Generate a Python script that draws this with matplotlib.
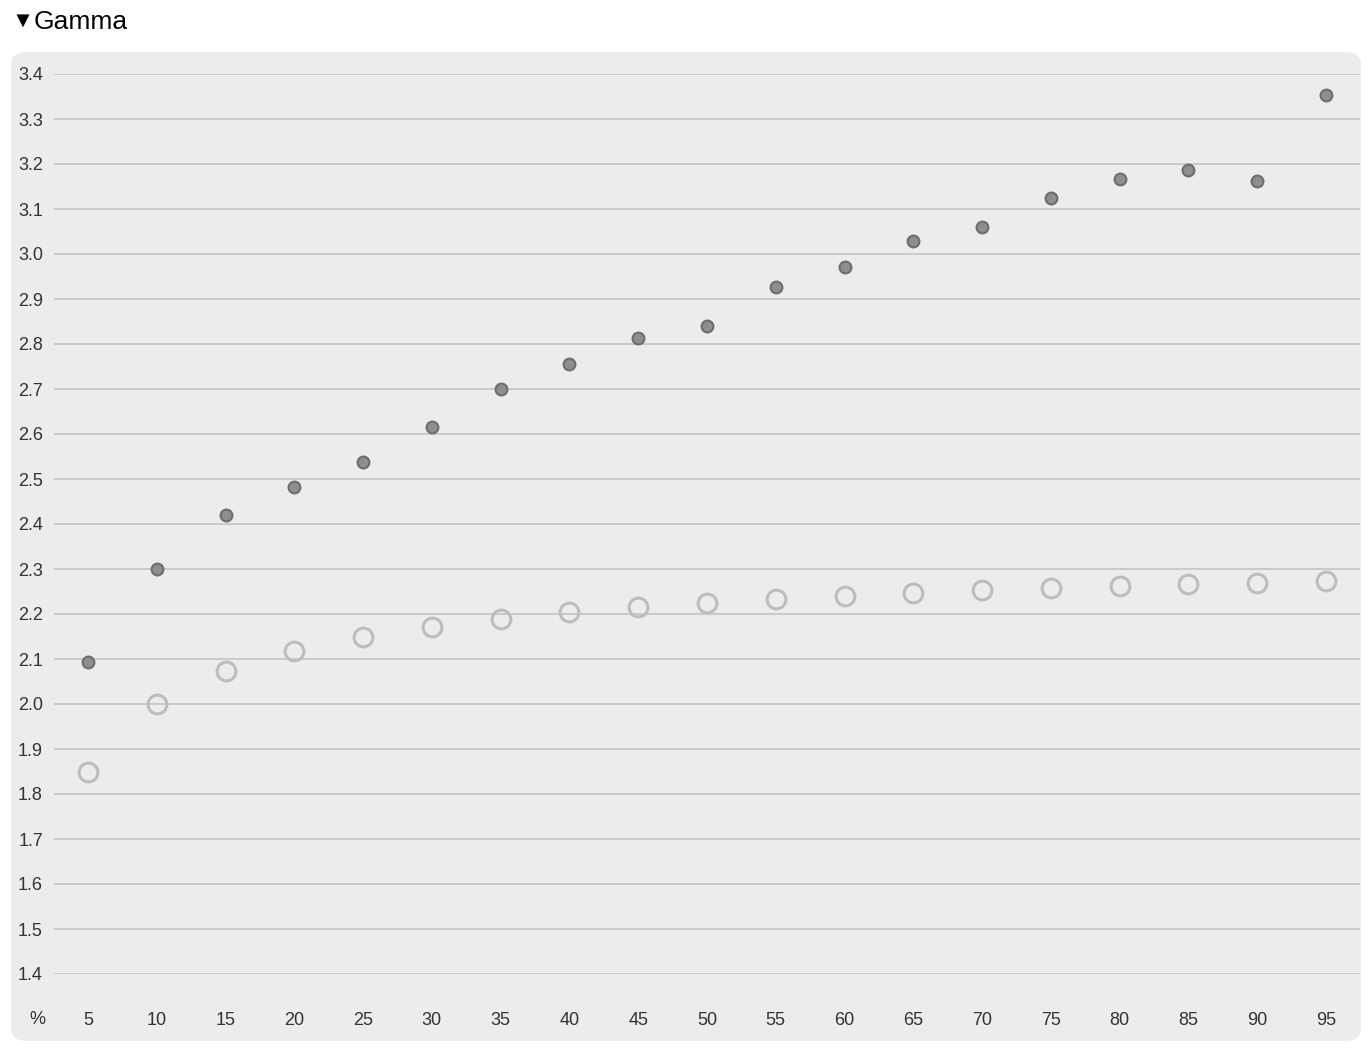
import matplotlib.pyplot as plt
import matplotlib.patches as patches
from matplotlib.transforms import blended_transform_factory

# Данные
percent = [5, 10, 15, 20, 25, 30, 35, 40, 45, 50, 55, 60, 65, 70, 75, 80, 85, 90, 95]
gamma_dark = [2.093, 2.30, 2.42, 2.482, 2.538, 2.616, 2.70, 2.756, 2.813, 2.84,
              2.927, 2.971, 3.029, 3.06, 3.124, 3.167, 3.187, 3.162, 3.353]
gamma_light = [1.849, 2.0, 2.073, 2.118, 2.149, 2.171, 2.189, 2.204, 2.216, 2.224,
               2.233, 2.24, 2.247, 2.253, 2.258, 2.262, 2.267, 2.269, 2.273]
yticks = [1.4, 1.5, 1.6, 1.7, 1.8, 1.9, 2.0, 2.1, 2.2, 2.3, 2.4, 2.5, 2.6, 2.7,
          2.8, 2.9, 3.0, 3.1, 3.2, 3.3, 3.4]

plt.rcParams['font.family'] = ['Liberation Sans', 'DejaVu Sans']

W, H = 1370, 1055
fig = plt.figure(figsize=(W / 100, H / 100), dpi=100)
fig.patch.set_facecolor('white')

# Фон панели
panel = patches.FancyBboxPatch((11 / W, 1 - 1041 / H), 1350 / W, 989 / H,
                               boxstyle='round,pad=0,rounding_size=0.012',
                               transform=fig.transFigure, facecolor='#ececec',
                               edgecolor='none', zorder=-5)
fig.patches.append(panel)

# Заголовок
fig.text(12 / W, 1 - 21 / H, '▼', fontsize=16, va='center', ha='left', color='black')
fig.text(34 / W, 1 - 22 / H, 'Gamma', fontsize=19, va='center', ha='left', color='black')

# Оси
ax = fig.add_axes([54 / W, 1 - 974 / H, (1360 - 54) / W, 900 / H])
ax.set_zorder(2)
ax.set_facecolor('none')
for s in ax.spines.values():
    s.set_visible(False)

step = (1326 - 88) / 18.0  # px на 5 единиц
x0 = 5 - (88 - 54) / step * 5
x1 = 95 + (1360 - 1326) / step * 5
ax.set_xlim(x0, x1)
ax.set_ylim(1.4, 3.4)

ax.set_yticks(yticks)
ax.set_yticklabels(['%.1f' % v for v in yticks])
ax.set_xticks(percent)
ax.set_xticklabels([str(p) for p in percent])
ax.tick_params(axis='y', length=0, pad=8, labelsize=13, labelcolor='#333333')
ax.tick_params(axis='x', length=0, pad=27.5, labelsize=13, labelcolor='#333333')
ax.yaxis.grid(True, color='#c4c4c4', linewidth=1.2)
ax.set_axisbelow(True)

trans = blended_transform_factory(fig.transFigure, ax.transAxes)
ax.text(37 / W, -(1019 - 974) / 900, '%', transform=trans, ha='center', va='center',
        fontsize=13, color='#333333')

# Точки
ax.plot(percent, gamma_light, linestyle='none', marker='o', markersize=13.5,
        markerfacecolor='none', markeredgecolor='#bdbdbd', markeredgewidth=2.2,
        clip_on=False, zorder=3)
ax.plot(percent, gamma_dark, linestyle='none', marker='o', markersize=8.5,
        markerfacecolor='#8e8e8e', markeredgecolor='#6e6e6e', markeredgewidth=1.5,
        clip_on=False, zorder=4)

plt.savefig('out.png', dpi=100, facecolor='white')
plt.close()
